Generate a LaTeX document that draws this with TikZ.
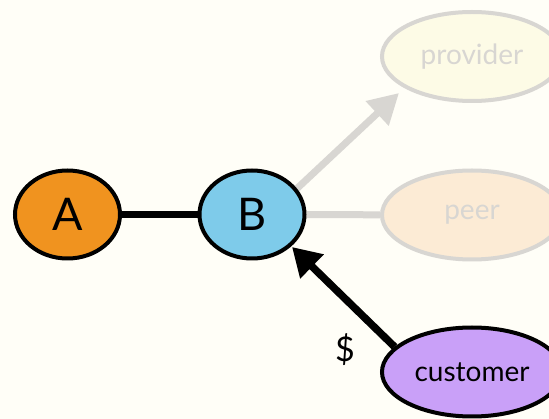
\documentclass[tikz,border=0pt]{standalone}
\usepackage{fontspec}
\setmainfont{Lato}
\usetikzlibrary{shapes.geometric,arrows.meta}
\definecolor{bg}{HTML}{FFFEF7}
\definecolor{fillA}{HTML}{F0931F}
\definecolor{fillB}{HTML}{7ECBEA}
\definecolor{fillprov}{HTML}{FDFBE6}
\definecolor{fillpeer}{HTML}{FCEBD5}
\definecolor{fillcust}{HTML}{C9A0F8}
\definecolor{faded}{HTML}{D8D6D2}
\pgfdeclarelayer{back}
\pgfdeclarelayer{lines}
\pgfsetlayers{back,lines,main}
\begin{document}
\begin{tikzpicture}[x=1pt,y=-1pt,
  bignode/.style={ellipse,draw=black,line width=4pt,inner sep=0pt,minimum width=105pt,minimum height=88pt,font=\fontsize{45}{45}\selectfont},
  wide/.style={ellipse,line width=4pt,inner sep=0pt,minimum width=180pt,minimum height=89pt,font=\fontsize{28}{28}\selectfont},
  fadednode/.style={wide,draw=faded,text=faded},
  fadedline/.style={draw=faded,line width=7pt},
  solidline/.style={draw=black,line width=7.5pt}]
\begin{pgfonlayer}{back}
\fill[bg] (0,0) rectangle (549,419);
\end{pgfonlayer}
\useasboundingbox (0,0) rectangle (549,419);
\clip (0,0) rectangle (549,419);
\node[bignode,fill=fillA] (A) at (67.5,214.5) {A};
\node[bignode,fill=fillB] (B) at (252,214.5) {B};
\node[fadednode,fill=fillprov] (prov) at (472,56.5) {provider};
\node[fadednode,fill=fillpeer] (peer) at (472,215) {peer};
\node[wide,draw=black,fill=fillcust] (cust) at (472,372) {customer};
\coordinate (ptip) at (399,93);
\coordinate (ctip) at (292,247);
\node[font=\fontsize{34}{34}\selectfont] (dollar) at (345,350) {\$};
\begin{pgfonlayer}{lines}
\draw[solidline] (A) -- (B);
\draw[fadedline] (B) -- (peer);
\draw[fadedline,-{Triangle[length=30pt,width=32pt]}] (B.30) -- (ptip);
\draw[solidline,-{Triangle[length=28pt,width=32pt]}] (cust.162) -- (ctip);
\end{pgfonlayer}
\end{tikzpicture}
\end{document}
